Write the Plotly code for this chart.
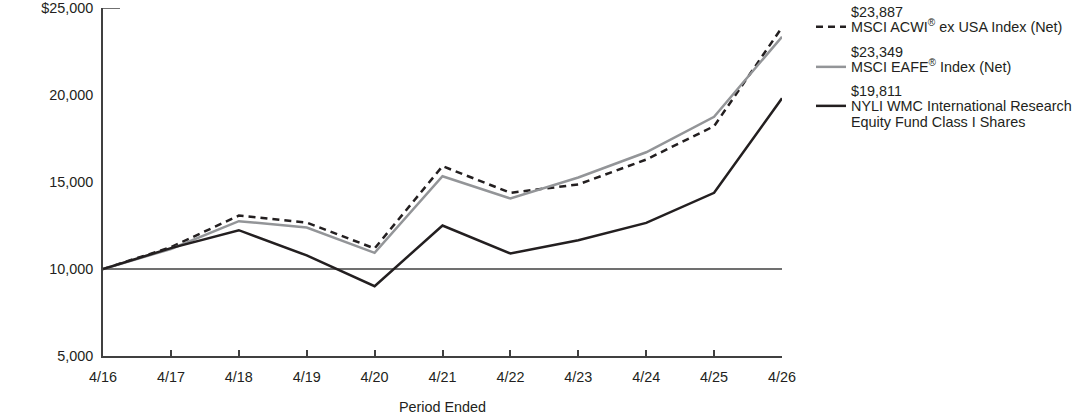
import plotly.graph_objects as go

periods = ["4/16", "4/17", "4/18", "4/19", "4/20", "4/21", "4/22", "4/23", "4/24", "4/25", "4/26"]
acwi = [10000, 11250, 13070, 12670, 11180, 15910, 14380, 14860, 16290, 18210, 23887]
eafe = [10000, 11150, 12750, 12380, 10930, 15330, 14050, 15260, 16710, 18750, 23349]
fund = [10000, 11200, 12230, 10780, 9010, 12500, 10890, 11650, 12650, 14380, 19811]

names = [
    "MSCI ACWI<sup>®</sup> ex USA Index (Net)",
    "MSCI EAFE<sup>®</sup> Index (Net)",
    "NYLI WMC International Research",
]
end_values = ["$23,887", "$23,349", "$19,811"]
name_continuation = "Equity Fund Class I Shares"

y_ticks = [5000, 10000, 15000, 20000, 25000]
y_ticktext = ["5,000", "10,000", "15,000", "20,000", "$25,000"]
baseline = 10000

DARK = "#231f20"
GRAY = "#939598"
AXIS = "#404040"
FONT = "Liberation Sans, Arial, sans-serif"
FS = 14.4

W, H = 1092, 417
ML, MR, MT, MB = 103, 310, 8, 61
PW, PH = W - ML - MR, H - MT - MB

def px_x(px):
    return (px - ML) / PW

def px_y(py):
    return (H - MB - py) / PH

fig = go.Figure()
fig.add_trace(go.Scatter(x=periods, y=acwi, mode="lines", name=names[0],
                         line=dict(color=DARK, width=2.5, dash="7px,5px"), legend="legend"))
fig.add_trace(go.Scatter(x=periods, y=eafe, mode="lines", name=names[1],
                         line=dict(color=GRAY, width=2.5), legend="legend2"))
fig.add_trace(go.Scatter(x=periods, y=fund, mode="lines", name=names[2],
                         line=dict(color=DARK, width=2.5), legend="legend3"))

fig.add_hline(y=baseline, line=dict(color=AXIS, width=1.5), layer="below")
fig.add_shape(type="line", xref="x domain", yref="y", x0=0, x1=0.025,
              y0=y_ticks[-1], y1=y_ticks[-1], line=dict(color=AXIS, width=1.5))

leg_x = 811 / W
leg_common = dict(xref="container", yref="container", x=leg_x, xanchor="left",
                  yanchor="middle", valign="middle", bgcolor="rgba(0,0,0,0)",
                  font=dict(family=FONT, size=FS, color=DARK), borderwidth=0)
leg_centers = [27, 67, 106]

# value labels above each legend name, and continuation of the third name
text_x = px_x(849)
value_centers = [12, 52, 91]
for v, cy in zip(end_values, value_centers):
    fig.add_annotation(x=text_x, y=px_y(cy), xref="paper", yref="paper", text=v,
                       showarrow=False, xanchor="left", yanchor="middle",
                       font=dict(family=FONT, size=FS, color=DARK))
fig.add_annotation(x=text_x, y=px_y(122), xref="paper", yref="paper", text=name_continuation,
                   showarrow=False, xanchor="left", yanchor="middle",
                   font=dict(family=FONT, size=FS, color=DARK))

fig.update_layout(
    width=W, height=H,
    margin=dict(l=ML, r=MR, t=MT, b=MB),
    paper_bgcolor="white", plot_bgcolor="white",
    font=dict(family=FONT, size=FS, color=DARK),
    showlegend=True,
    legend=dict(y=1 - leg_centers[0] / H, **leg_common),
    legend2=dict(y=1 - leg_centers[1] / H, **leg_common),
    legend3=dict(y=1 - leg_centers[2] / H, **leg_common),
    xaxis=dict(type="category", range=[0, len(periods) - 1], showgrid=False,
               automargin=False,
               showline=True, linecolor=AXIS, linewidth=1.5,
               ticks="inside", ticklen=6, tickcolor=AXIS, tickwidth=1.5,
               ticklabelstandoff=7,
               tickfont=dict(size=FS, color=DARK),
               title=dict(text="Period Ended", font=dict(size=FS, color=DARK), standoff=18)),
    yaxis=dict(range=[5000, 25000], showgrid=False, zeroline=False, automargin=False,
               showline=True, linecolor=AXIS, linewidth=1.5,
               tickvals=y_ticks, ticktext=y_ticktext, ticks="",
               ticklabeloverflow="allow", ticklabelstandoff=5,
               tickfont=dict(size=FS, color=DARK)),
)

fig.write_html("out.html")
